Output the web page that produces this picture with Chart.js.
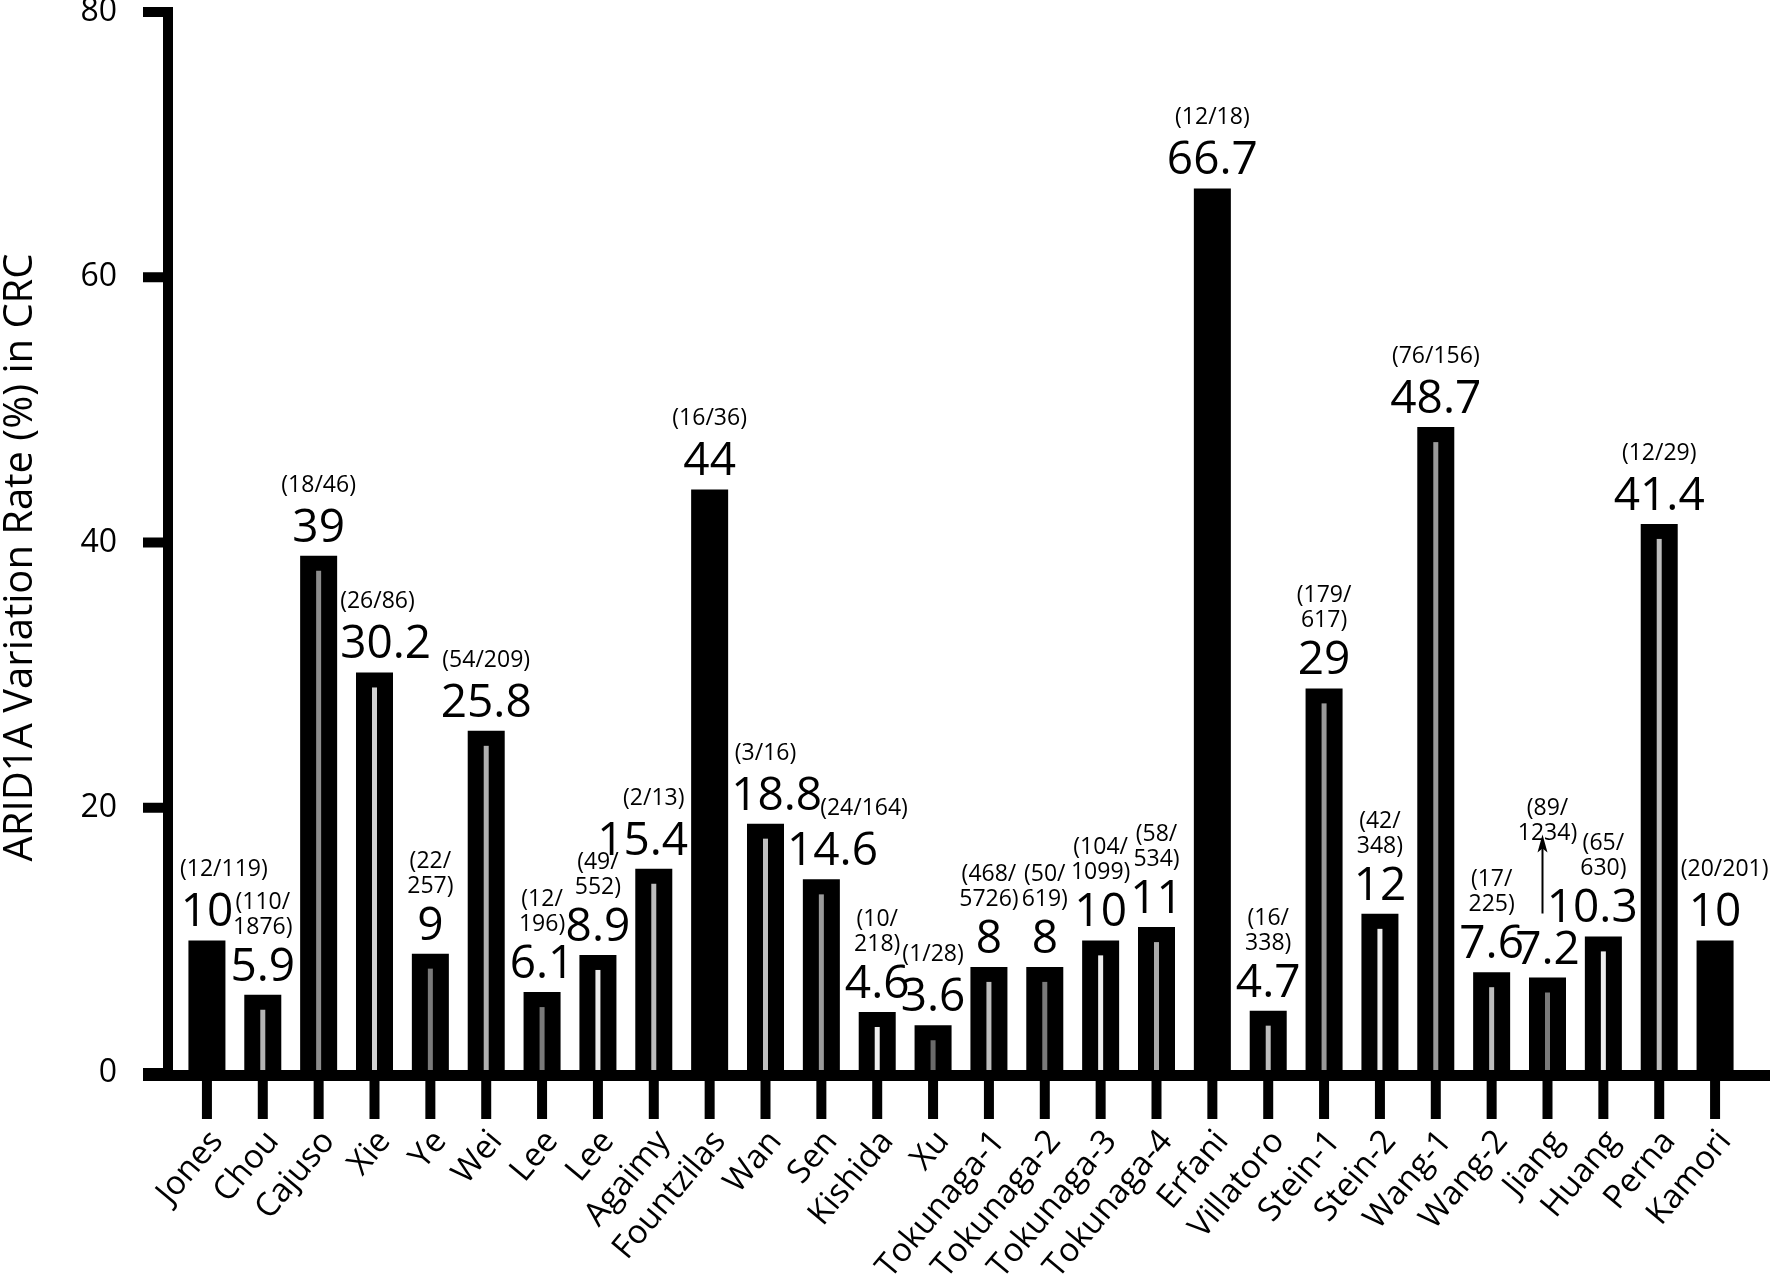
<!DOCTYPE html>
<html>
<head>
<meta charset="utf-8">
<script src="https://cdn.jsdelivr.net/npm/chart.js@4.4.1/dist/chart.umd.min.js"></script>
<style>
html,body{margin:0;padding:0;background:#fff;}
#wrap{width:1770px;height:1282px;position:relative;}
</style>
</head>
<body>
<div id="wrap"><canvas id="c" width="1770" height="1282"></canvas></div>
<script>
const categories = ['Jones','Chou','Cajuso','Xie','Ye','Wei','Lee','Lee','Agaimy','Fountzilas','Wan','Sen','Kishida','Xu','Tokunaga-1','Tokunaga-2','Tokunaga-3','Tokunaga-4','Erfani','Villatoro','Stein-1','Stein-2','Wang-1','Wang-2','Jiang','Huang','Perna','Kamori'];
const rates = [10,5.9,39,30.2,9,25.8,6.1,8.9,15.4,44,18.8,14.6,4.6,3.6,8,8,10,11,66.7,4.7,29,12,48.7,7.6,7.2,10.3,41.4,10];
const rateLabels = ['10','5.9','39','30.2','9','25.8','6.1','8.9','15.4','44','18.8','14.6','4.6','3.6','8','8','10','11','66.7','4.7','29','12','48.7','7.6','7.2','10.3','41.4','10'];
const sampleLabels = ['(12/119)','(110/\n1876)','(18/46)','(26/86)','(22/\n257)','(54/209)','(12/\n196)','(49/\n552)','(2/13)','(16/36)','(3/16)','(24/164)','(10/\n218)','(1/28)','(468/\n5726)','(50/\n619)','(104/\n1099)','(58/\n534)','(12/18)','(16/\n338)','(179/\n617)','(42/\n348)','(76/156)','(17/\n225)','(89/\n1234)','(65/\n630)','(12/29)','(20/201)'];
const yTicks = [0,20,40,60,80];
const yTitle = 'ARID1A Variation Rate (%) in CRC';
const arrowCategory = 'Jiang';

// styles (inner stripe colour of each bar, null = none)
const stripeColors = [null,'#b4b4b4','#8c8c8c','#d2d2d2','#7a7a7a','#b0b0b0','#7a7a7a','#ececec','#bdbdbd',null,'#c0c0c0','#9a9a9a','#eeeeee','#6a6a6a','#bdbdbd','#7a7a7a','#eeeeee','#aaaaaa',null,'#bdbdbd','#9a9a9a','#eeeeee','#9a9a9a','#bdbdbd','#7a7a7a','#eeeeee','#bdbdbd',null];

Chart.defaults.font.family = '"Open Sans", "Noto Sans", sans-serif';
Chart.defaults.color = '#000';

const decor = {
  id: 'decor',
  afterDatasetsDraw(chart) {
    const ctx = chart.ctx;
    const xs = chart.scales.x, ys = chart.scales.y;
    const meta = chart.getDatasetMeta(0);
    const bars = meta.data;
    ctx.save();
    // inner stripes
    bars.forEach((bar, i) => {
      const c = stripeColors[i];
      if (!c) return;
      ctx.fillStyle = c;
      ctx.fillRect(bar.x - 2.5, bar.y + 15, 5, bar.base - bar.y - 15);
    });
    // axes
    ctx.fillStyle = '#000';
    const y0 = ys.getPixelForValue(0);
    const axX = chart.chartArea.left - 11;
    const yTop = ys.getPixelForValue(yTicks[yTicks.length - 1]) - 5;
    ctx.fillRect(axX - 5, yTop, 10, y0 - yTop + 4);
    yTicks.forEach(v => {
      const py = ys.getPixelForValue(v);
      ctx.fillRect(axX - 25, py - 5, 25, 10);
    });
    ctx.fillRect(axX - 25, y0 - 3, chart.width - (axX - 25), 11);
    categories.forEach((c, i) => {
      const px = xs.getPixelForValue(i);
      ctx.fillRect(px - 5, y0 + 7, 10, 39);
    });
    // y axis title
    ctx.save();
    ctx.font = '40px "Open Sans"';
    ctx.textAlign = 'center';
    ctx.textBaseline = 'middle';
    ctx.translate(21, (ys.top + ys.bottom) / 2 + 15);
    ctx.rotate(-Math.PI / 2);
    ctx.fillText(yTitle, 0, 0);
    ctx.restore();
    // value and sample labels (nudged sideways to clear neighbouring bars)
    ctx.textAlign = 'center';
    ctx.textBaseline = 'alphabetic';
    const arrowIdx = categories.indexOf(arrowCategory);
    const minLeft = axX + 12;
    const valueBoxes = [];
    const n = bars.length;
    const clear = (cx, w, yLine, i) => {
      if (i > 0) {
        const p = bars[i - 1];
        if (p.y < yLine) cx = Math.max(cx, p.x + p.width / 2 + 3 + w / 2);
      }
      if (i < n - 1) {
        const q = bars[i + 1];
        if (q.y < yLine) cx = Math.min(cx, q.x - q.width / 2 - 3 - w / 2);
      }
      return cx;
    };
    bars.forEach((bar, i) => {
      const base = bar.y - 14;
      ctx.font = '46px "Open Sans"';
      const vw = ctx.measureText(rateLabels[i]).width;
      const vx = clear(bar.x, vw, base, i);
      ctx.fillText(rateLabels[i], vx, base);
      valueBoxes.push({ right: vx + vw / 2, top: base - 34, bottom: base });
      const prev = i > 0 ? valueBoxes[i - 1] : null;
      const lines = sampleLabels[i].split('\n');
      const raise = i === arrowIdx ? 77 : 0;
      ctx.font = '23px "Open Sans"';
      const last = base - (lines.length > 1 ? 47 : 50) - raise;
      lines.forEach((ln, k) => {
        const w = ctx.measureText(ln).width;
        const ly = last - (lines.length - 1 - k) * 25;
        let cx = Math.max(bar.x, minLeft + w / 2);
        if (prev && ly > prev.top && ly - 17 < prev.bottom) {
          cx = Math.max(cx, prev.right - 2 + w / 2);
        }
        cx = clear(cx, w, ly, i);
        ctx.fillText(ln, cx, ly);
      });
      if (i === arrowIdx) {
        const ax = bar.x - 5;
        const yb = base - 50, yt = base - 129;
        ctx.strokeStyle = '#000';
        ctx.lineWidth = 2;
        ctx.beginPath(); ctx.moveTo(ax, yb); ctx.lineTo(ax, yt + 10); ctx.stroke();
        ctx.beginPath();
        ctx.moveTo(ax, yt);
        ctx.lineTo(ax + 5, yt + 18);
        ctx.lineTo(ax, yt + 14);
        ctx.lineTo(ax - 5, yt + 18);
        ctx.closePath();
        ctx.fill();
      }
    });
    ctx.restore();
  }
};

new Chart(document.getElementById('c'), {
  type: 'bar',
  data: {
    labels: categories,
    datasets: [{
      data: rates,
      backgroundColor: '#000',
      borderWidth: 0,
      barPercentage: 0.6625,
      categoryPercentage: 1
    }]
  },
  options: {
    responsive: false,
    animation: false,
    devicePixelRatio: 1,
    layout: { padding: { top: 12, right: 27, left: 0, bottom: 0 } },
    plugins: { legend: { display: false }, tooltip: { enabled: false } },
    scales: {
      x: {
        offset: true,
        grid: { display: true, drawOnChartArea: false, drawTicks: true, tickLength: 52, tickColor: 'rgba(0,0,0,0)', offset: false },
        border: { display: false },
        ticks: { font: { size: 33, lineHeight: 1 }, color: '#000', minRotation: 50, maxRotation: 50, padding: 0, labelOffset: 10, autoSkip: false },
        afterFit(s) { s.height = 209; }
      },
      y: {
        min: 0, max: 80,
        grid: { display: true, drawOnChartArea: false, drawTicks: true, tickLength: 62, tickColor: 'rgba(0,0,0,0)' },
        border: { display: false },
        ticks: { font: { size: 32, lineHeight: 0.7 }, color: '#000', padding: 0 },
        afterBuildTicks(s) { s.ticks = yTicks.map(v => ({ value: v })); },
        title: { display: false, text: yTitle },
        afterFit(s) { s.width = 179; }
      }
    }
  },
  plugins: [decor]
});
</script>
</body>
</html>
